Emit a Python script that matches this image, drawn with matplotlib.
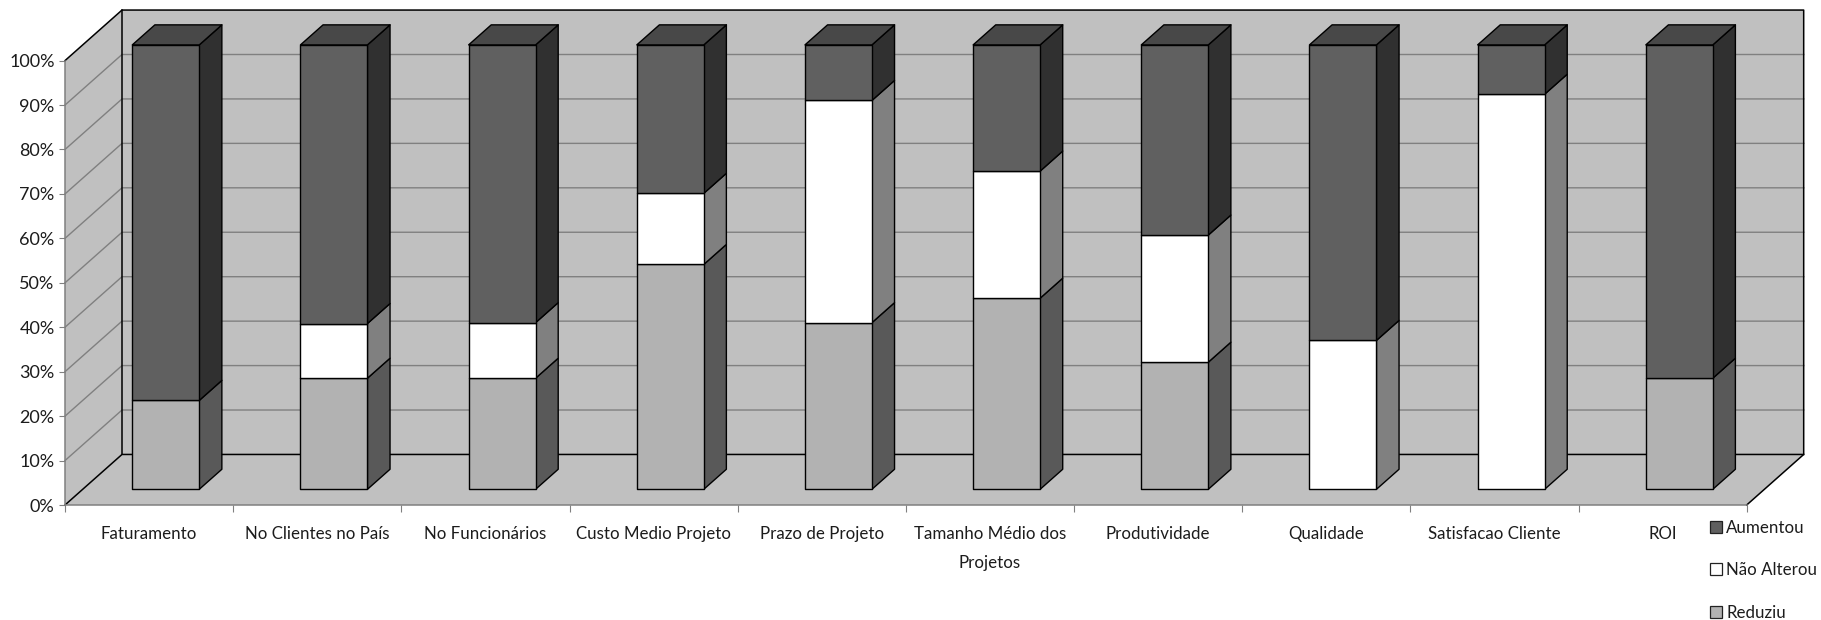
import matplotlib
matplotlib.use("Agg")
import matplotlib.pyplot as plt
from matplotlib.patches import Patch, Polygon

plt.rcParams["font.family"] = ["Lato", "DejaVu Sans"]

categories = ["Faturamento", "No Clientes no País", "No Funcionários", "Custo Medio Projeto",
              "Prazo de Projeto", "Tamanho Médio dos\nProjetos", "Produtividade",
              "Qualidade", "Satisfacao Cliente", "ROI"]
reduziu = [20, 25, 25, 50.6, 37.5, 43, 28.6, 0, 0, 25]
nao_alterou = [0, 12.3, 12.5, 16, 50, 28.6, 28.6, 33.5, 88.9, 0]
aumentou = [80, 62.7, 62.5, 33.4, 12.5, 28.4, 42.8, 66.5, 11.1, 75]
y_ticks = list(range(0, 101, 10))

# Depth of the oblique projection, in data units per unit of depth
DX = 57 / 168.2
DY = 50.5 / 4.44
BAR_WIDTH = 67 / 168.2
BAR_SHIFT = -0.006
Z_FRONT, Z_BACK = 0.311, 0.707

WALL = "#C0C0C0"
GRID = "#808080"
TEXT = "#1c1c1c"
# (front, side) shades per series; the top cap belongs to the upper series
SHADES = {"Reduziu": ("#B2B2B2", "#595959"),
          "Não Alterou": ("#FFFFFF", "#808080"),
          "Aumentou": ("#606060", "#303030")}
TOP_CAP = "#484848"


def project(x, y, z):
    return x + z * DX, y + z * DY


def face(ax, corners, color, edge="black", lw=1.0, zorder=3):
    pts = [project(*c) for c in corners]
    ax.add_patch(Polygon(pts, closed=True, facecolor=color, edgecolor=edge,
                         linewidth=lw, joinstyle="round", zorder=zorder, clip_on=False))


fig = plt.figure(figsize=(18.21, 6.2), dpi=100)
ax = fig.add_axes([65 / 1821, 1 - 505 / 620, (1746.7 - 65) / 1821, (505 - 60.6) / 620])
ax.set_xlim(0, len(categories))
ax.set_ylim(0, 100)
n = len(categories)

# Walls and floor
face(ax, [(0, 0, 1), (n, 0, 1), (n, 100, 1), (0, 100, 1)], WALL, edge="none", zorder=1)
face(ax, [(0, 0, 0), (0, 0, 1), (0, 100, 1), (0, 100, 0)], WALL, edge="none", zorder=1)
face(ax, [(0, 0, 0), (n, 0, 0), (n, 0, 1), (0, 0, 1)], WALL, edge="none", zorder=1)

# Gridlines across the back wall and the left wall
for t in y_ticks[1:-1]:
    xs, ys = zip(project(0, t, 0), project(0, t, 1), project(n, t, 1))
    ax.plot(xs, ys, color=GRID, lw=1.0, zorder=2, clip_on=False)

# Black outlines of the box
outlines = [
    [(0, 100, 0), (0, 100, 1), (n, 100, 1), (n, 0, 1), (n, 0, 0)],
    [(0, 0, 0), (0, 0, 1), (n, 0, 1)],
    [(0, 0, 1), (0, 100, 1)],
]
for line in outlines:
    xs, ys = zip(*[project(*c) for c in line])
    ax.plot(xs, ys, color="black", lw=1.1, zorder=2, clip_on=False)

# Stacked prisms, one per category
for i in range(n):
    x0 = i + 0.5 + BAR_SHIFT - BAR_WIDTH / 2
    x1 = i + 0.5 + BAR_SHIFT + BAR_WIDTH / 2
    base = 0
    for name, values in (("Reduziu", reduziu), ("Não Alterou", nao_alterou), ("Aumentou", aumentou)):
        v = values[i]
        if v == 0:
            continue
        front, side = SHADES[name]
        top = base + v
        face(ax, [(x1, base, Z_FRONT), (x1, base, Z_BACK), (x1, top, Z_BACK), (x1, top, Z_FRONT)], side)
        face(ax, [(x0, base, Z_FRONT), (x1, base, Z_FRONT), (x1, top, Z_FRONT), (x0, top, Z_FRONT)], front)
        base = top
    face(ax, [(x0, base, Z_FRONT), (x1, base, Z_FRONT), (x1, base, Z_BACK), (x0, base, Z_BACK)], TOP_CAP)

# Front axes with tick marks and labels
ax.patch.set_visible(False)
for s in ("top", "right"):
    ax.spines[s].set_visible(False)
for s in ("left", "bottom"):
    ax.spines[s].set_color(GRID)
    ax.spines[s].set_linewidth(1.1)
    ax.spines[s].set_zorder(2.5)
ax.set_yticks(y_ticks)
ax.set_yticklabels([f"{t}%" for t in y_ticks])
ax.set_xticks(range(n + 1))
ax.set_xticklabels([])
ax.set_xticks([i + 0.5 for i in range(n)], minor=True)
ax.set_xticklabels(categories, minor=True, linespacing=2.0, va="top")
ax.tick_params(axis="y", length=4.5, width=0.8, color=GRID, labelsize=13, labelcolor=TEXT, pad=3)
ax.tick_params(axis="x", which="major", length=5, width=0.8, color=GRID)
ax.tick_params(axis="x", which="minor", length=0, labelsize=12.2, labelcolor=TEXT, pad=15)

handles = [Patch(facecolor=SHADES[k][0], edgecolor="#222222", linewidth=0.9, label=k)
           for k in ("Aumentou", "Não Alterou", "Reduziu")]
fig.legend(handles=handles, loc="upper left", bbox_to_anchor=(1710 / 1821, 1 - 520 / 620),
           frameon=False, fontsize=12.2, labelcolor=TEXT, handlelength=0.72, handleheight=0.72,
           handletextpad=0.25, labelspacing=1.55, borderpad=0, borderaxespad=0)

fig.savefig("out.png", dpi=100, facecolor="white")
